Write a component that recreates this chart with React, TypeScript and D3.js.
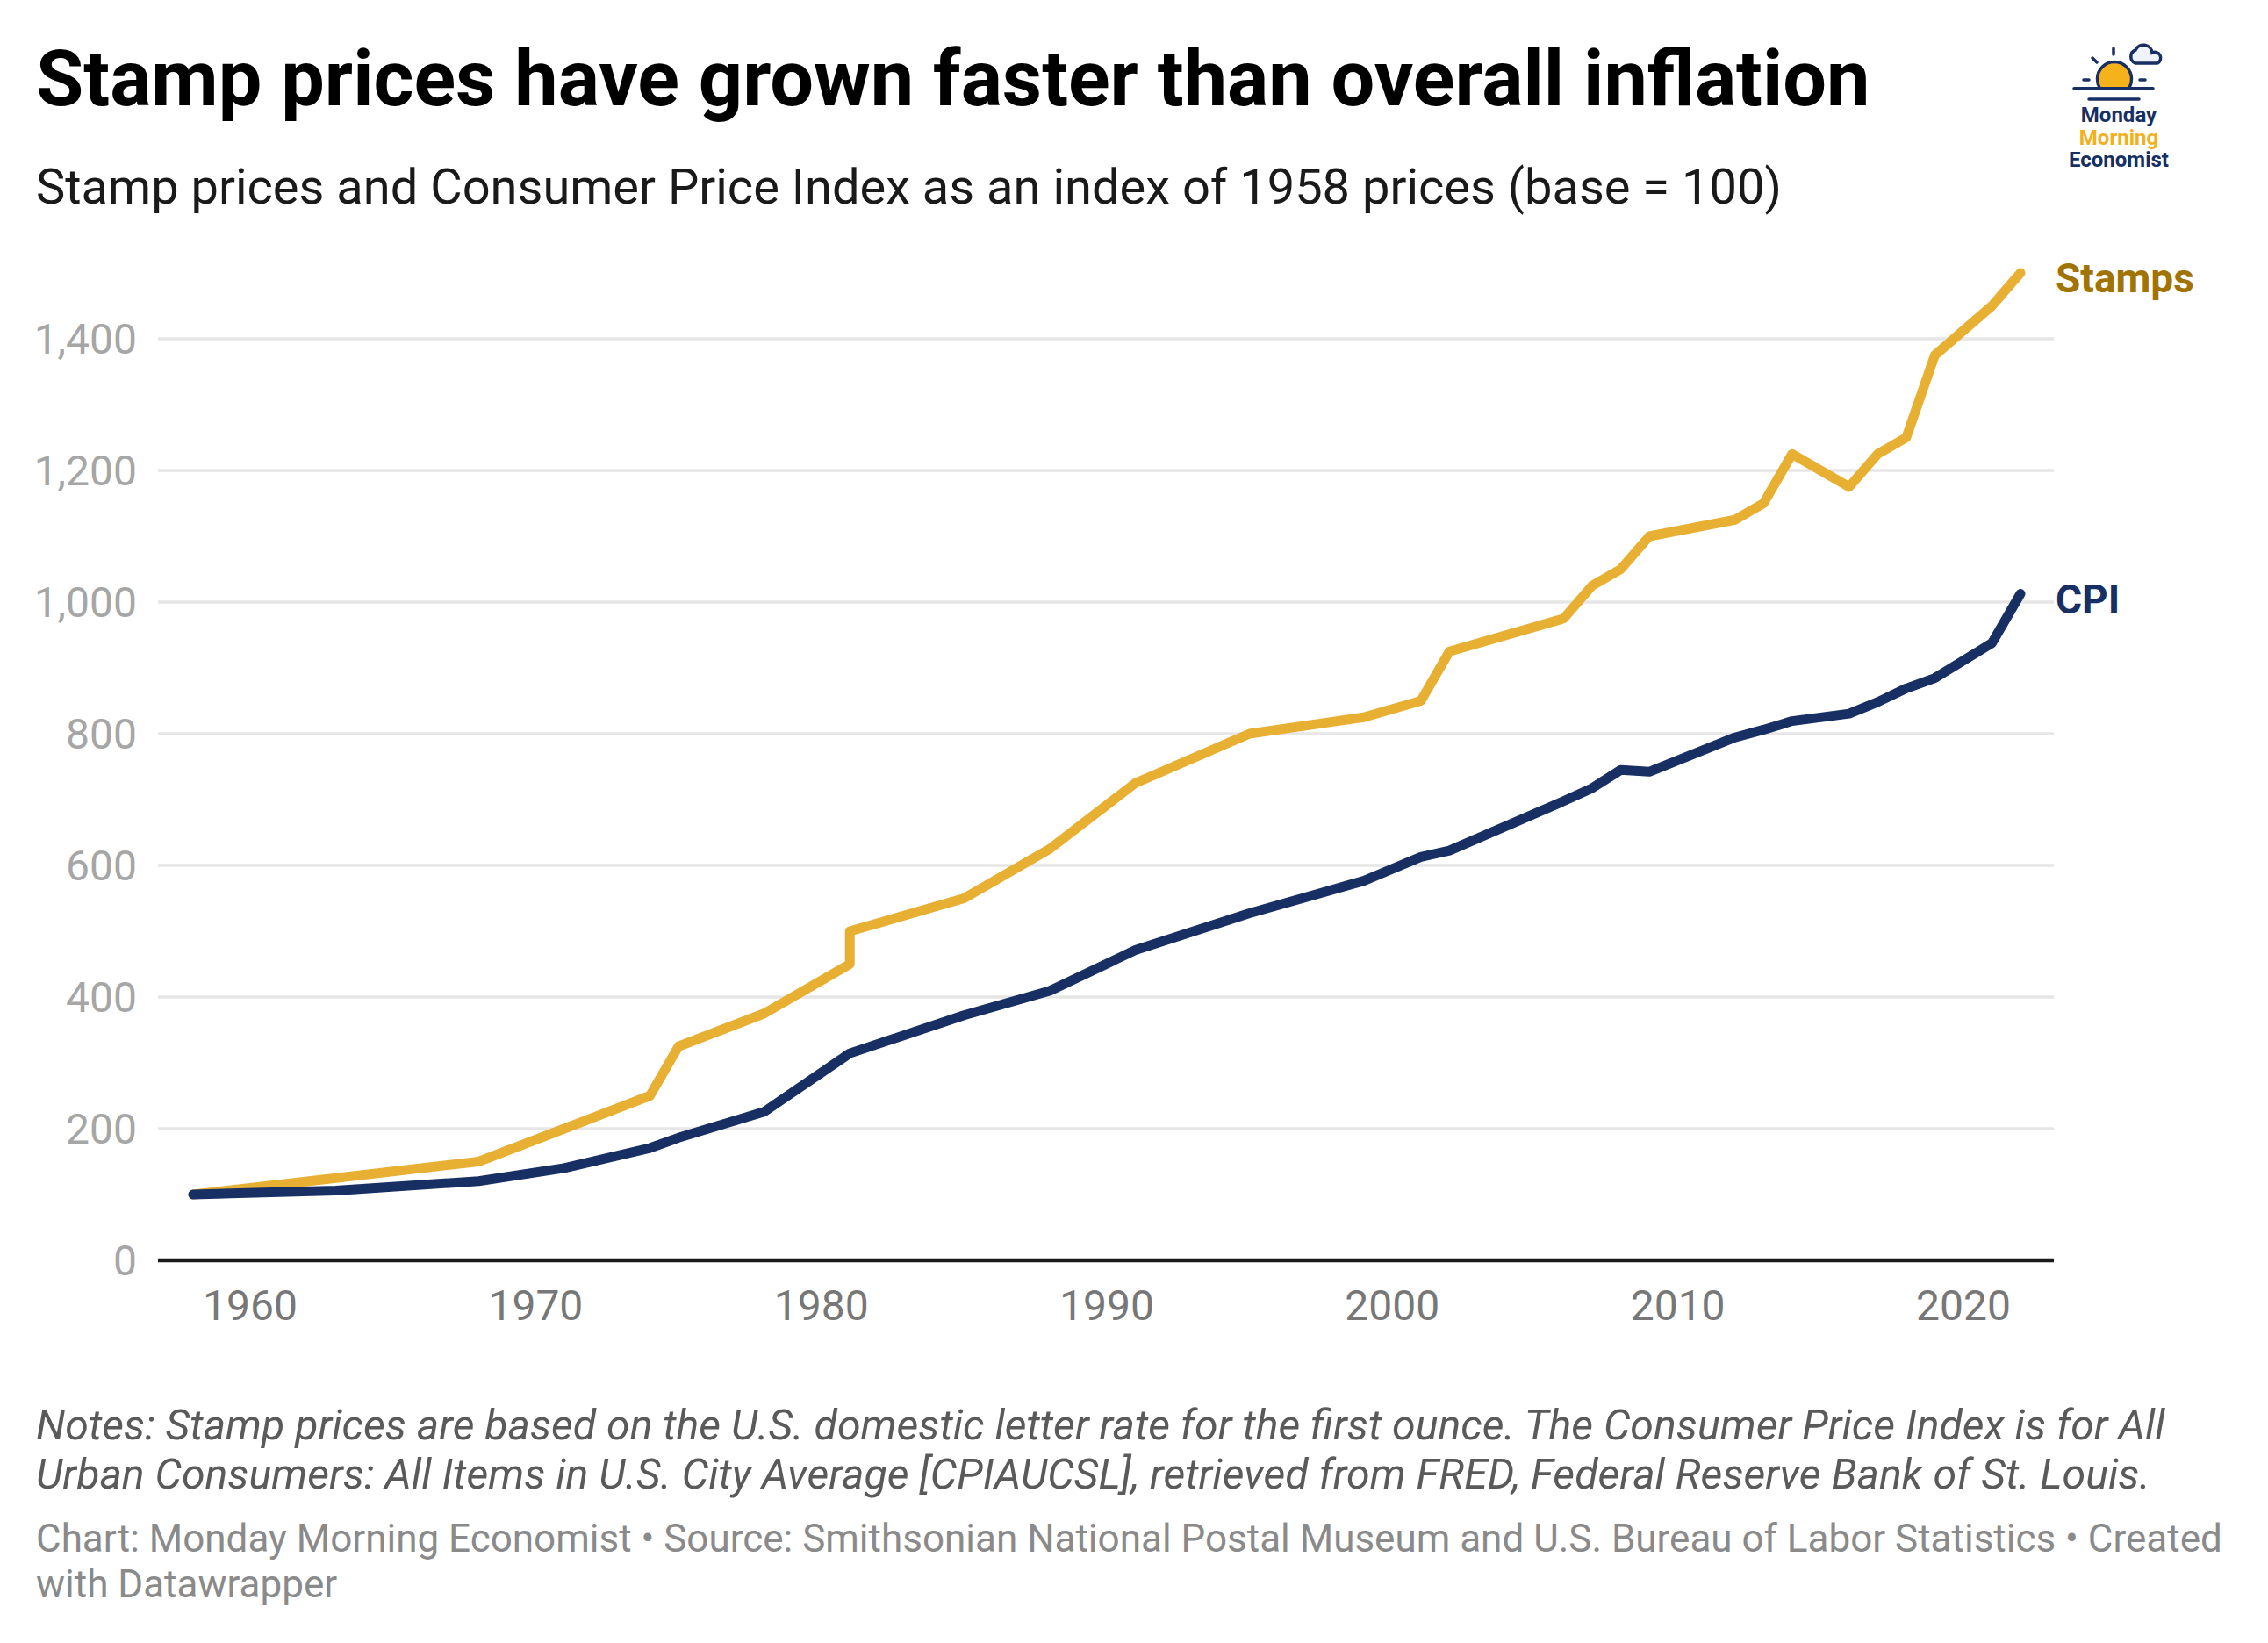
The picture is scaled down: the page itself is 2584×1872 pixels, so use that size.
import React from "react";
import * as d3 from "d3";

const years = [
  1958, 1963, 1968, 1971, 1974, 1975, 1978, 1981, 1981, 1985, 1988, 1991,
  1995, 1999, 2001, 2002, 2006, 2007, 2008, 2009, 2012, 2013, 2014, 2016,
  2017, 2018, 2019, 2021, 2022,
];
const stamps = [
  100, 125, 150, 200, 250, 325, 375, 450, 500, 550, 625, 725, 800, 825, 850,
  925, 975, 1025, 1050, 1100, 1125, 1150, 1225, 1175, 1225, 1250, 1375, 1450,
  1500,
];
const cpi = [
  100, 105.9, 120.4, 140.1, 170.6, 186.2, 225.6, 314.5, 314.5, 372.3, 409.3,
  471.3, 527.3, 576.5, 612.8, 622.5, 697.6, 717.4, 745.0, 742.3, 794.4, 806.1,
  819.2, 830.5, 848.2, 868.9, 884.6, 937.6, 1012.6,
];
const yTicks = [0, 200, 400, 600, 800, 1000, 1200, 1400];
const xTicks = [1960, 1970, 1980, 1990, 2000, 2010, 2020];

const title = "Stamp prices have grown faster than overall inflation";
const subtitle =
  "Stamp prices and Consumer Price Index as an index of 1958 prices (base = 100)";
const notes = [
  "Notes: Stamp prices are based on the U.S. domestic letter rate for the first ounce. The Consumer Price Index is for All",
  "Urban Consumers: All Items in U.S. City Average [CPIAUCSL], retrieved from FRED, Federal Reserve Bank of St. Louis.",
];
const credits = [
  "Chart: Monday Morning Economist • Source: Smithsonian National Postal Museum and U.S. Bureau of Labor Statistics • Created",
  "with Datawrapper",
];

const W = 2584;
const H = 1872;
const GOLD = "#e8b033";
const GOLD_TEXT = "#a17303";
const NAVY = "#172f63";
const FONT = "Roboto, 'Noto Sans', sans-serif";

const App: React.FC = () => {
  const x = d3.scaleLinear().domain([1958, 2022]).range([220, 2302]);
  const y = d3.scaleLinear().domain([0, 1400]).range([1436, 386]);
  const gridLeft = 180;
  const gridRight = 2340;

  const line = d3
    .line<number>()
    .x((_, i) => x(years[i]))
    .y((d) => y(d));

  const lastI = years.length - 1;

  return (
    <div style={{ position: "absolute", left: 0, top: 0 }}>
      <svg width={W} height={H} style={{ display: "block", background: "#fff" }} fontFamily={FONT}>
        <text x={41} y={120} fontSize={88.2} fontWeight={700} fill="#000">
          {title}
        </text>
        <text x={41} y={232} fontSize={56} fill="#1a1a1a">
          {subtitle}
        </text>

        {/* logo */}
        <g stroke={NAVY} strokeWidth={3.5} strokeLinecap="round" fill="none">
          <clipPath id="sunclip">
            <rect x={2380} y={50} width={60} height={50.7} />
          </clipPath>
          <circle cx={2409} cy={90} r={19.5} fill="#f5b21a" clipPath="url(#sunclip)" />
          <line x1={2363} x2={2453} y1={100.7} y2={100.7} />
          <line x1={2380} x2={2437} y1={113} y2={113} />
          <line x1={2408} x2={2408} y1={55} y2={62} />
          <line x1={2384} x2={2389} y1={66} y2={71} />
          <line x1={2374} x2={2380} y1={91} y2={91} />
          <line x1={2438} x2={2444} y1={91} y2={91} />
          <path
            d="M2433,72 A8,8 0 0 1 2433,57 A10,10 0 0 1 2452,60 A6.5,6.5 0 0 1 2458,72 Z"
            fill="#eef3f9"
          />
        </g>
        <g fontSize={24} fontWeight={700} textAnchor="middle">
          <text x={2414} y={139} fill={NAVY}>Monday</text>
          <text x={2414} y={165} fill="#f2b01e">Morning</text>
          <text x={2414} y={190} fill={NAVY}>Economist</text>
        </g>

        {/* grid */}
        {yTicks.map((t) => (
          <g key={t}>
            {t > 0 && (
              <line x1={gridLeft} x2={gridRight} y1={y(t)} y2={y(t)} stroke="#e6e6e6" strokeWidth={3.3} />
            )}
            <text x={156} y={y(t)} dy="0.355em" fontSize={48} fill="#a6a6a6" textAnchor="end">
              {d3.format(",")(t)}
            </text>
          </g>
        ))}
        <line x1={gridLeft} x2={gridRight} y1={y(0)} y2={y(0)} stroke="#1a1a1a" strokeWidth={4.5} />
        {xTicks.map((t) => (
          <text key={t} x={x(t)} y={1504} fontSize={48} fill="#777" textAnchor="middle">
            {t}
          </text>
        ))}

        {/* lines */}
        <path d={line(stamps) ?? ""} fill="none" stroke={GOLD} strokeWidth={11} strokeLinejoin="round" strokeLinecap="round" />
        <path d={line(cpi) ?? ""} fill="none" stroke={NAVY} strokeWidth={11} strokeLinejoin="round" strokeLinecap="round" />

        <text x={2342} y={y(stamps[lastI]) + 6} dy="0.355em" fontSize={46} fontWeight={700} fill={GOLD_TEXT}>
          Stamps
        </text>
        <text x={2342} y={y(cpi[lastI]) + 6} dy="0.355em" fontSize={46} fontWeight={700} fill={NAVY}>
          CPI
        </text>

        {/* notes */}
        {notes.map((n, i) => (
          <text key={n} x={41} y={1640 + i * 56} fontSize={48.2} fontStyle="italic" fill="#5a5a5a">
            {n}
          </text>
        ))}
        {credits.map((n, i) => (
          <text key={n} x={41} y={1768 + i * 52} fontSize={44} fill="#8a8a8a">
            {n}
          </text>
        ))}
      </svg>
    </div>
  );
};

export default App;
